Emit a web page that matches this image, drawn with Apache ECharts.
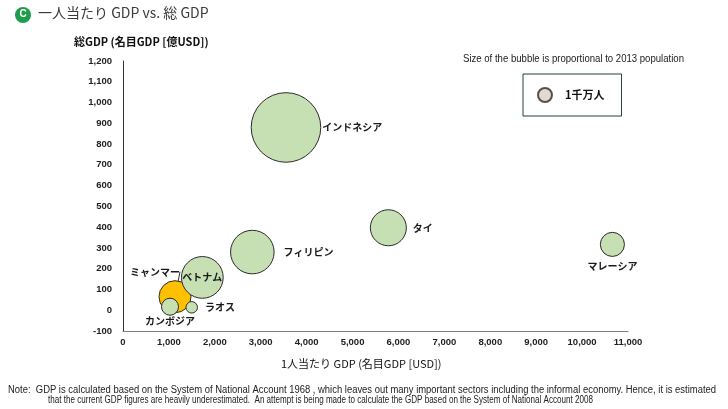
<!DOCTYPE html>
<html>
<head>
<meta charset="utf-8">
<script src="https://cdn.jsdelivr.net/npm/echarts@6/dist/echarts.min.js"></script>
<style>
html,body{margin:0;padding:0;background:#fff;}
#chart{width:728px;height:409px;}
</style>
</head>
<body>
<div id="chart"></div>
<script>
// ---- data ----
const countries    = ['インドネシア','フィリピン','タイ','マレーシア','ミャンマー','ベトナム','カンボジア','ラオス'];
const gdpPerCapita = [3550, 2817, 5780, 10660, 1133, 1728, 1024, 1497];   // USD
const totalGdp     = [880, 280, 397, 317, 65, 158, 17, 14];               // 億USD (as labelled)
const population   = [250, 98, 67, 30, 53, 90, 15, 6.8];                  // million, 2013
const highlight    = ['ミャンマー'];
const legendPopulation = 10; // 1千万人
const xTicks = {min: 0, max: 11000, interval: 1000};
const yTicks = {min: -100, max: 1200, interval: 100};

const NARROW = '"Liberation Sans",sans-serif';
const JP = '"Noto Sans CJK JP",sans-serif';
const GREEN = '#c6e0b4', ORANGE = '#ffc000', EDGE = '#2b2b2b';
const sizeOf = p => 4.4 * Math.sqrt(p);

// condense text to a target width (the reference uses a narrow typeface)
const mctx = document.createElement('canvas').getContext('2d');
function fitScale(text, font, width) { mctx.font = font; return width / mctx.measureText(text).width; }

const labelCfg = {
  'インドネシア': {position:'right', distance:1, offset:[0,16]},
  'フィリピン':   {position:'right', distance:9, offset:[0,-7]},
  'タイ':         {position:'right', distance:6, offset:[0,3]},
  'マレーシア':   {position:'bottom', distance:4, offset:[-25,0]},
  'ミャンマー':   {position:'inside'},
  'ベトナム':     {position:'inside'},
  'カンボジア':   {position:'bottom', distance:0, offset:[-15,0]},
  'ラオス':       {position:'right', distance:7, offset:[0,4]}
};

const data = countries.map((c, i) => ({
  name: c,
  value: [gdpPerCapita[i], totalGdp[i], population[i]],
  itemStyle: {color: highlight.includes(c) ? ORANGE : GREEN},
  label: Object.assign({show:true, formatter:'{b}'}, labelCfg[c]),
  labelLine: {show: c === 'ミャンマー'}
}));

const sizeText = 'Size of the bubble is proportional to 2013 population';
const note1 = 'Note:  GDP is calculated based on the System of National Account 1968 , which leaves out many important sectors including the informal economy. Hence, it is estimated';
const note2 = 'that the current GDP figures are heavily underestimated.  An attempt is being made to calculate the GDP based on the System of National Account 2008';
const fSize = '10px ' + NARROW, fNote = '10px ' + NARROW;

const chart = echarts.init(document.getElementById('chart'));
chart.setOption({
  animation: false,
  backgroundColor: '#fff',
  grid: {left: 123, right: 100, top: 61, bottom: 78, containLabel: false},
  xAxis: {
    type: 'value', min: xTicks.min, max: xTicks.max, interval: xTicks.interval,
    axisLine: {onZero: false, lineStyle: {color: '#808080', width: 1}},
    axisTick: {show: false}, splitLine: {show: false},
    axisLabel: {margin: 6, color: '#222', fontSize: 9.5, fontWeight: 'bold', fontFamily: NARROW,
      formatter: v => v.toLocaleString('en-US')}
  },
  yAxis: {
    type: 'value', min: yTicks.min, max: yTicks.max, interval: yTicks.interval,
    axisLine: {show: true, lineStyle: {color: '#333', width: 1}},
    axisTick: {show: false}, splitLine: {show: false},
    axisLabel: {margin: 11, color: '#222', fontSize: 9.5, fontWeight: 'bold', fontFamily: NARROW,
      formatter: v => v.toLocaleString('en-US')}
  },
  legend: {
    data: ['1千万人'], left: 523, top: 74,
    orient: 'horizontal', icon: 'circle', itemWidth: 22, itemHeight: 14,
    padding: [13, 17, 13, 14], borderColor: '#24403f', borderWidth: 1,
    textStyle: {color: '#111', fontSize: 11, fontWeight: 'bold', fontFamily: JP, padding: [0,0,0,4]},
    selectedMode: false
  },
  series: [
    {
      name: 'countries', type: 'scatter',
      symbolSize: v => sizeOf(v[2]),
      itemStyle: {borderColor: EDGE, borderWidth: 1, opacity: 1},
      label: {color: '#1a1a1a', fontSize: 10, fontWeight: 'bold', fontFamily: JP},
      labelLayout: function (p) {
        if (p.text === 'ミャンマー') return {dx: -20, dy: -25};
        return {};
      },
      labelLine: {show: false, lineStyle: {color: '#333', width: 1}},
      emphasis: {disabled: true},
      data: data,
      z: 3
    },
    {
      name: '1千万人', type: 'scatter', data: [],
      symbolSize: sizeOf(legendPopulation),
      itemStyle: {color: '#dccfc6', borderColor: EDGE, borderWidth: 1}
    }
  ],
  graphic: [
    {type:'circle', shape:{cx:23, cy:15, r:8}, style:{fill:'#1f9d4c'}},
    {type:'text', left: 19.5, top: 9, style:{text:'C', fill:'#fff', font:'bold 10px "Liberation Sans",sans-serif'}},
    {type:'text', left: 38, top: 6, style:{text:'一人当たり GDP vs. 総 GDP', fill:'#3a3a3a', font:'14px ' + JP}},
    {type:'text', left: 74, top: 36, style:{text:'総GDP (名目GDP [億USD])', fill:'#111', font:'bold 11px ' + JP}},
    {type:'text', left: 281, top: 358, style:{text:'1人当たり GDP (名目GDP [USD])', fill:'#111', font:'11px ' + JP}},
    {type:'text', x: 463, y: 54, scaleX: fitScale(sizeText, fSize, 221), style:{text: sizeText, fill:'#222', font: fSize}},
    {type:'text', x: 8, y: 385, scaleX: fitScale(note1, fNote, 708), style:{text: note1, fill:'#222', font: fNote}},
    {type:'text', x: 48, y: 395, scaleX: fitScale(note2, fNote, 545), style:{text: note2, fill:'#222', font: fNote}}
  ]
});
</script>
</body>
</html>
